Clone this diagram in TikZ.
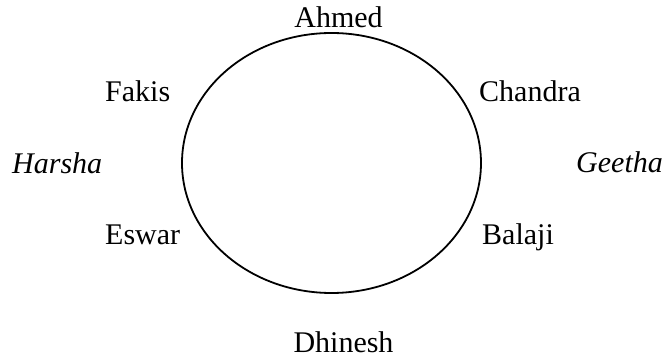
\documentclass[tikz,border=0pt]{standalone}
\usepackage{fontspec}
\setmainfont{Liberation Serif}
\usetikzlibrary{shapes.geometric}

\begin{document}
\begin{tikzpicture}[x=1pt,y=1pt,
    person/.style={inner sep=0pt,font=\fontsize{30}{36}\selectfont}]
    \useasboundingbox (-331.5,-195) rectangle (332.5,163);
    \node[ellipse,draw,line width=1.8pt,inner sep=0pt,minimum width=299pt,minimum height=260pt] (ring) at (0,0) {};

    \node[person,anchor=base] (ahmed) at (7,135) {Ahmed};
    \node[person,anchor=base west] (fakis) at (-226.5,61) {Fakis};
    \node[person,anchor=base west] (chandra) at (147.5,61) {Chandra};
    \node[person,anchor=base west] (harsha) at (-319.5,-11) {\itshape Harsha};
    \node[person,anchor=base west] (geetha) at (244.5,-10) {\itshape Geetha};
    \node[person,anchor=base west] (eswar) at (-226.5,-82) {Eswar};
    \node[person,anchor=base west] (balaji) at (150.5,-82) {Balaji};
    \node[person,anchor=base] (dhinesh) at (12,-190) {Dhinesh};
\end{tikzpicture}
\end{document}
